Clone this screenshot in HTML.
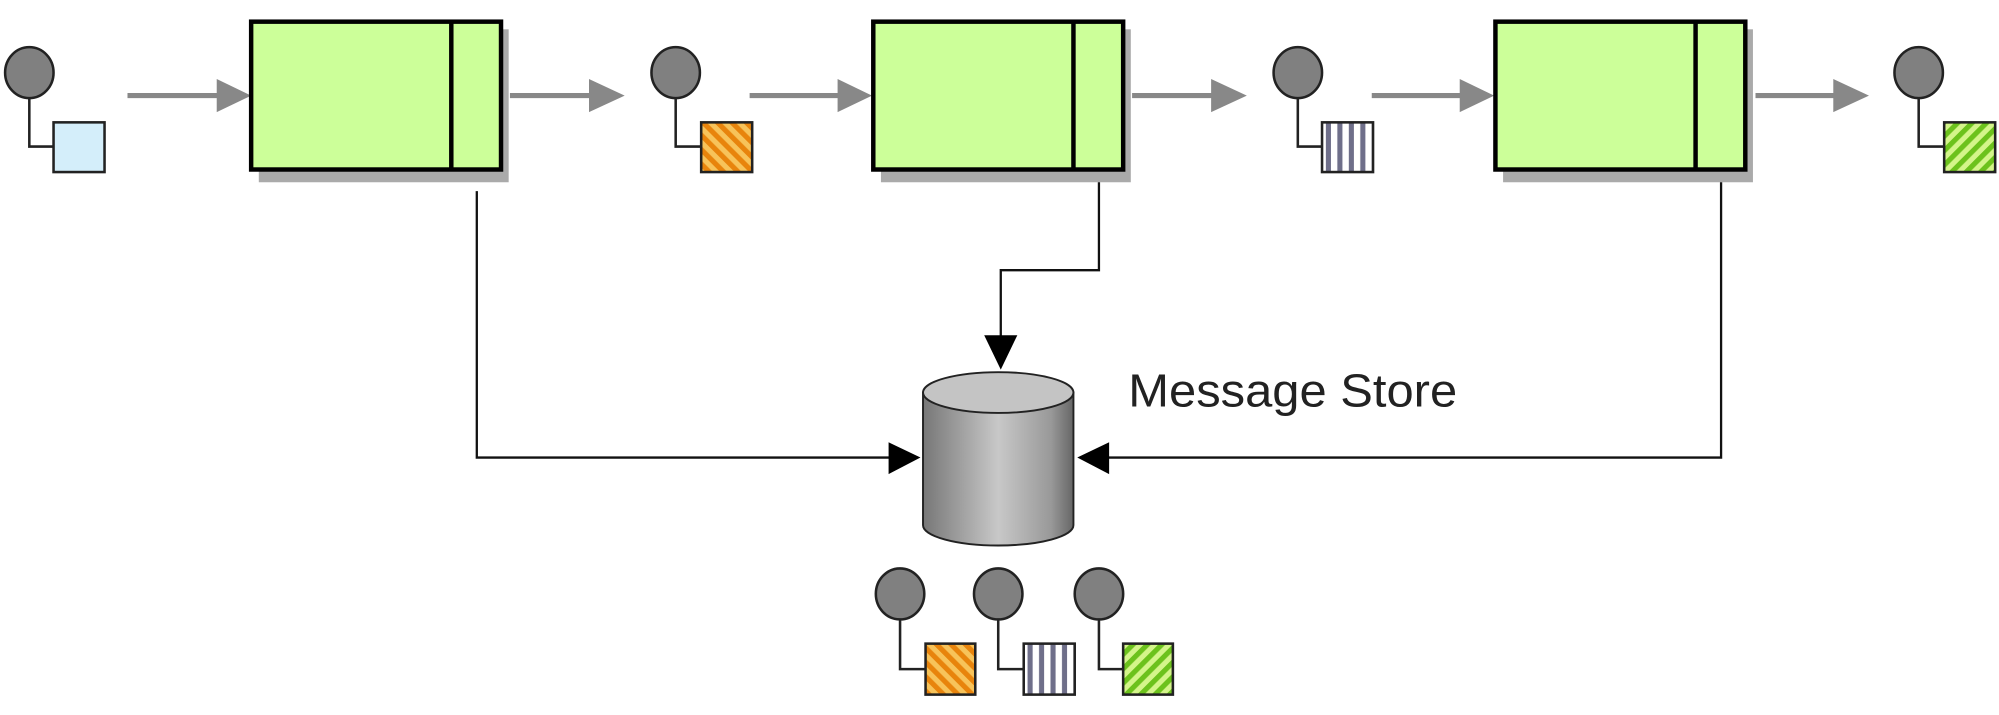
<!DOCTYPE html>
<html><head><style>html,body{margin:0;padding:0;background:#fff;width:1999px;height:715px;overflow:hidden}svg{display:block}</style></head>
<body>
<svg width="1999" height="715" viewBox="0 0 1568 561" preserveAspectRatio="none" xmlns="http://www.w3.org/2000/svg">
<defs>
<pattern id="or" width="8" height="8" patternUnits="userSpaceOnUse" patternTransform="rotate(-45)"><rect width="8" height="8" fill="#f7c35a"/><rect width="4" height="8" fill="#e8840c"/></pattern>
<pattern id="gr" width="8" height="8" patternUnits="userSpaceOnUse" patternTransform="rotate(45)"><rect width="8" height="8" fill="#d4f58a"/><rect width="4" height="8" fill="#6cc21c"/></pattern>
<pattern id="st" width="9" height="10" patternUnits="userSpaceOnUse"><rect width="9" height="10" fill="#fff"/><rect x="5" width="4" height="10" fill="#6f6f8a"/></pattern>
<linearGradient id="cyl" x1="0" x2="1"><stop offset="0" stop-color="#777"/><stop offset="0.5" stop-color="#c8c8c8"/><stop offset="0.85" stop-color="#999"/><stop offset="1" stop-color="#666"/></linearGradient>
</defs>
<g stroke="#222" stroke-width="2">
<g fill="none"><path d="M23 77V115H42"/><path d="M530 77V115H550"/><path d="M1018 77V115H1037"/><path d="M1505 77V115H1525"/>
<path d="M706 486V525H726"/><path d="M783 486V525H803"/><path d="M862 486V525H881"/></g>
<g fill="#808080"><ellipse cx="23" cy="57" rx="19" ry="20"/><ellipse cx="530" cy="57" rx="19" ry="20"/><ellipse cx="1018" cy="57" rx="19" ry="20"/><ellipse cx="1505" cy="57" rx="19" ry="20"/>
<ellipse cx="706" cy="466" rx="19" ry="20"/><ellipse cx="783" cy="466" rx="19" ry="20"/><ellipse cx="862" cy="466" rx="19" ry="20"/></g>
<rect x="42" y="96" width="40" height="39" fill="#d4eefa"/>
<rect x="550" y="96" width="40" height="39" fill="url(#or)"/>
<rect x="1037" y="96" width="40" height="39" fill="url(#st)"/>
<rect x="1525" y="96" width="40" height="39" fill="url(#gr)"/>
<rect x="726" y="505" width="39" height="40" fill="url(#or)"/>
<rect x="803" y="505" width="40" height="40" fill="url(#st)"/>
<rect x="881" y="505" width="39" height="40" fill="url(#gr)"/>
</g>
<g stroke="#888" stroke-width="4" fill="#888">
<path d="M100 75H172M400 75H465M588 75H660M888 75H952M1076 75H1148M1377 75H1440"/>
</g>
<g fill="#888">
<path d="M170 62L197 75L170 88Z"/><path d="M462 62L490 75L462 88Z"/><path d="M657 62L684 75L657 88Z"/><path d="M950 62L978 75L950 88Z"/><path d="M1145 62L1172 75L1145 88Z"/><path d="M1438 62L1466 75L1438 88Z"/>
</g>
<g fill="#aaa"><rect x="203" y="23" width="196" height="120"/><rect x="691" y="23" width="196" height="120"/><rect x="1179" y="23" width="196" height="120"/></g>
<g fill="#ccff99" stroke="#000" stroke-width="3.5">
<rect x="197" y="17" width="196" height="116"/><path d="M354 17V133" fill="none"/>
<rect x="685" y="17" width="196" height="116"/><path d="M842 17V133" fill="none"/>
<rect x="1173" y="17" width="196" height="116"/><path d="M1330 17V133" fill="none"/>
</g>
<g stroke="#111" stroke-width="1.8" fill="none">
<path d="M374 150V359H700"/><path d="M862 143V212H785V265"/><path d="M1350 143V359H868"/>
</g>
<g fill="#000"><path d="M697 347L722 359L697 372Z"/><path d="M772 263L798 263L785 290Z"/><path d="M870 347L845 359L870 372Z"/></g>
<path d="M724 308V412A59 16 0 0 0 842 412V308Z" fill="url(#cyl)" stroke="#222" stroke-width="1.5"/>
<ellipse cx="783" cy="308" rx="59" ry="16" fill="#c4c4c4" stroke="#222" stroke-width="1.5"/>
<text x="885" y="319" font-family="Liberation Sans, sans-serif" font-size="36" fill="#222" textLength="258" lengthAdjust="spacingAndGlyphs">Message Store</text>
</svg>
</body></html>
